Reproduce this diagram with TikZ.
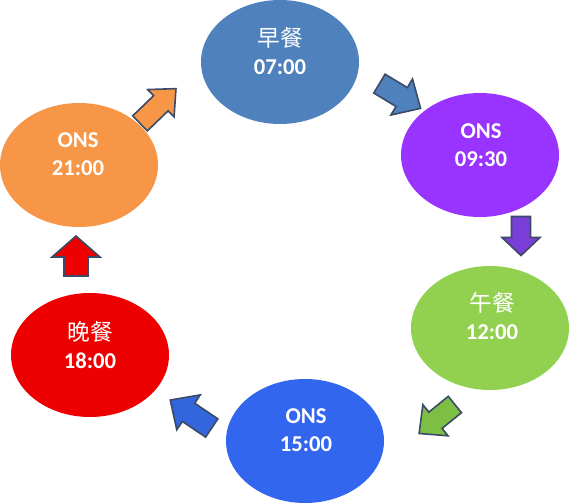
\documentclass[tikz,border=0pt]{standalone}
\usepackage{fontspec}
\setmainfont{Carlito}
\newfontfamily\cjk{Noto Sans CJK SC}
\usetikzlibrary{shapes.geometric}
\definecolor{cTop}{HTML}{4F81BD}
\definecolor{cPur}{HTML}{9933FF}
\definecolor{cGrn}{HTML}{92D050}
\definecolor{cBlu}{HTML}{3366EE}
\definecolor{cRed}{HTML}{EE0000}
\definecolor{cOrg}{HTML}{F79646}
\definecolor{aLine}{HTML}{3B4A66}
\definecolor{aPur}{HTML}{7A3FD8}
\definecolor{aGrn}{HTML}{7DBE45}
\definecolor{aBlu}{HTML}{3366DD}
\newcommand\blkarrow[7]{% center, angle, colour, length, head width, shaft width, head length
\begin{scope}[shift={(#1)},rotate=#2]
\filldraw[blkline, fill=#3] ({-#4/2},{#6/2}) -- ({#4/2-#7},{#6/2}) -- ({#4/2-#7},{#5/2}) -- ({#4/2},0) -- ({#4/2-#7},{-#5/2}) -- ({#4/2-#7},{-#6/2}) -- ({-#4/2},{-#6/2}) -- cycle;
\end{scope}}
\begin{document}
\begin{tikzpicture}[x=0.75pt,y=-0.75pt,
  ell/.style={ellipse, inner sep=0, minimum width=118.5pt, minimum height=93pt},
  lbl/.style={text=white, align=center, font=\fontsize{17}{21}\selectfont},
  blkline/.style={draw=aLine, line width=1.2pt, line join=miter}]
\useasboundingbox (0,0) rectangle (571,503);
\fill[white] (0,0) rectangle (571,503);
% ellipses
\node[ell, fill=cTop] (e1) at (280,62) {};
\node[ell, fill=cPur] (e2) at (480,155) {};
\node[ell, fill=cGrn] (e3) at (490,328) {};
\node[ell, fill=cBlu] (e4) at (305,441) {};
\node[ell, fill=cRed] (e5) at (90,355) {};
\node[ell, fill=cOrg] (e6) at (79,165) {};
% labels
\node[lbl] (t1) at (280,51) {{\cjk 早餐}\\{\bfseries 07:00}};
\node[lbl] (t2) at (481,145) {{\bfseries ONS}\\{\bfseries 09:30}};
\node[lbl] (t3) at (492,316) {{\cjk 午餐}\\{\bfseries 12:00}};
\node[lbl] (t4) at (306,430) {{\bfseries ONS}\\{\bfseries 15:00}};
\node[lbl] (t5) at (90,345) {{\cjk 晚餐}\\{\bfseries 18:00}};
\node[lbl] (t6) at (78,154) {{\bfseries ONS}\\{\bfseries 21:00}};
% block arrows
\blkarrow{158,106}{44}{cOrg}{50}{38}{21}{21}
\blkarrow{400,96}{-31}{cTop}{48}{42}{22}{22}
\blkarrow{521,236}{-90}{aPur}{39}{38}{19}{18}
\blkarrow{437,419}{219}{aGrn}{46}{40}{21}{21}
\blkarrow{191,414}{146}{aBlu}{50}{42}{22}{22}
\blkarrow{76,256}{90}{cRed}{40}{48}{24}{21}
\end{tikzpicture}
\end{document}
